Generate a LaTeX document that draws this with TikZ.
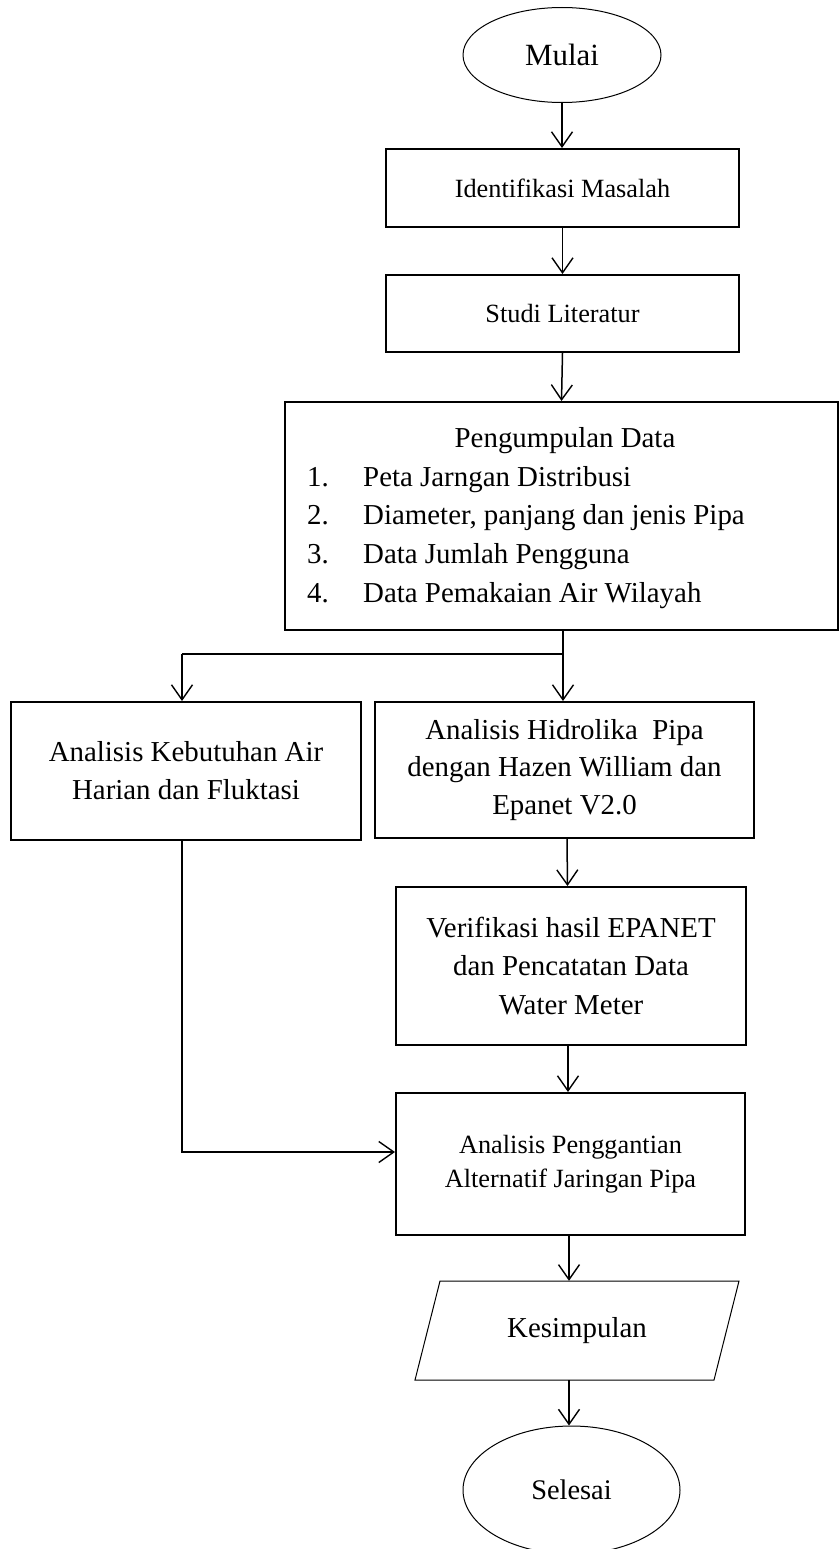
\documentclass[tikz,border=0pt]{standalone}
\usepackage{fontspec}
\setmainfont{Liberation Serif}
\usetikzlibrary{arrows.meta,shapes.geometric}
\begin{document}
\begin{tikzpicture}[x=1bp,y=-1bp,
  box/.style={draw, line width=2bp, rectangle, inner sep=0pt, align=center},
  term/.style={draw, line width=1bp, ellipse, inner sep=0pt},
  arr/.style={-{Straight Barb[length=15bp,width=21bp,line width=1.4bp]}, line width=1.5bp},
  ln/.style={line width=1.5bp},
  fa/.style={font=\fontsize{29}{38}\selectfont},
  fb/.style={font=\fontsize{26.4}{34.5}\selectfont}
]
\useasboundingbox (0,0) rectangle (839,1549);

% terminals
\node[term, minimum width=198bp, minimum height=95bp, font=\fontsize{31}{37}\selectfont] (mulai) at (562,55) {Mulai};
\node[term, minimum width=217bp, minimum height=128bp, font=\fontsize{28.5}{34}\selectfont] (sel) at (571.5,1490) {Selesai};

% process boxes
\node[box, fb, minimum width=353bp, minimum height=78bp] (idm) at (562.5,188) {Identifikasi Masalah};
\node[box, fb, minimum width=353bp, minimum height=77bp] (studi) at (562.5,313.5) {Studi Literatur};
\node[box, minimum width=553bp, minimum height=228bp] (pd) at (561.5,516) {};
\node[fa, anchor=base] (pdt) at (565,447) {Pengumpulan Data};
\node[fa, anchor=base west, inner sep=0pt] (pd1) at (307,486) {\makebox[56bp][l]{1.}Peta Jarngan Distribusi};
\node[fa, anchor=base west, inner sep=0pt] (pd2) at (307,524.7) {\makebox[56bp][l]{2.}Diameter, panjang dan jenis Pipa};
\node[fa, anchor=base west, inner sep=0pt] (pd3) at (307,563.4) {\makebox[56bp][l]{3.}Data Jumlah Pengguna};
\node[fa, anchor=base west, inner sep=0pt] (pd4) at (307,602) {\makebox[56bp][l]{4.}Data Pemakaian Air Wilayah};

\node[box, fa, minimum width=350bp, minimum height=138bp] (keb) at (186,771) {Analisis Kebutuhan Air\\Harian dan Fluktasi};
\node[box, font=\fontsize{29}{37.5}\selectfont, minimum width=379bp, minimum height=136bp] (hid) at (564.5,770) {Analisis Hidrolika\ \ Pipa\\dengan Hazen William dan\\Epanet V2.0};
\node[box, font=\fontsize{29}{38.5}\selectfont, minimum width=350bp, minimum height=158bp] (ver) at (571,966) {Verifikasi hasil EPANET\\dan Pencatatan Data\\Water Meter};
\node[box, fb, minimum width=349bp, minimum height=142bp] (pen) at (570.5,1164) {Analisis Penggantian\\Alternatif Jaringan Pipa};

% output (parallelogram)
\draw[line width=1bp] (415,1380) -- (440,1281) -- (739,1281) -- (714,1380) -- cycle;
\node[fa, minimum width=280bp, minimum height=99bp, inner sep=0pt] (kes) at (577,1330.5) {Kesimpulan};

% connectors
\coordinate (j) at (563,654);
\coordinate (jl) at (182,654);
\draw[arr] (mulai.south) -- (mulai.south |- idm.north);
\draw[arr] (idm.south) -- (studi.north);
\draw[arr] (studi.south) -- (pd.south |- pd.north);
\draw[ln] (pd.south -| j) -- (j) -- (jl);
\draw[arr] (jl) -- (jl |- keb.north);
\draw[arr] (j) -- (j |- hid.north);
\draw[arr] ([xshift=2.5bp]hid.south) -- ([xshift=-3.5bp]ver.north);
\draw[arr] ([xshift=-3bp]ver.south) -- ([xshift=-2.5bp]pen.north);
\draw[arr] ([xshift=-4bp]keb.south) |- ([yshift=12bp]pen.west);
\draw[arr] ([xshift=-1.5bp]pen.south) -- ([xshift=-1.5bp]pen.south |- kes.north);
\draw[arr] ([xshift=-1.5bp]pen.south |- kes.south) -- ([xshift=-1.5bp]pen.south |- sel.north);
\end{tikzpicture}
\end{document}
